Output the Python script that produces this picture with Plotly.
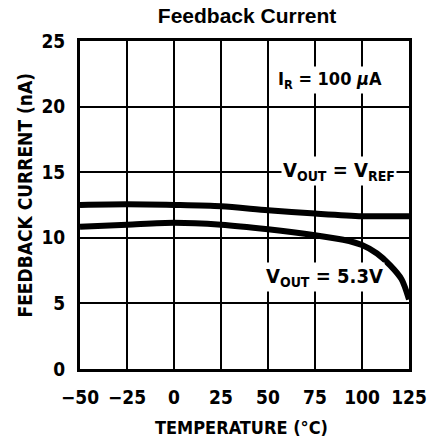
import plotly.graph_objects as go

temps_ref = [-50, -25, 0, 25, 50, 75, 100, 125]
current_vref = [12.5, 12.55, 12.5, 12.4, 12.1, 11.85, 11.65, 11.65]

temps_53 = [-50, -25, 0, 25, 50, 75, 90, 100, 108, 115, 121, 125]
current_53 = [10.85, 11.0, 11.15, 11.0, 10.65, 10.2, 9.85, 9.45, 8.8, 7.9, 6.85, 5.3]

x_ticks = [-50, -25, 0, 25, 50, 75, 100, 125]
x_ticktext = ["<b>\u221250</b>", "<b>\u221225</b>", "<b>0</b>", "<b>25</b>", "<b>50</b>",
              "<b>75</b>", "<b>100</b>", "<b>125</b>"]
y_ticks = [0, 5, 10, 15, 20, 25]
y_ticktext = ["<b>0</b>", "<b>5</b>", "<b>10</b>", "<b>15</b>", "<b>20</b>", "<b>25</b>"]

FONT = "DejaVu Sans Condensed, Liberation Sans Narrow, sans-serif"

fig = go.Figure()
fig.add_trace(go.Scatter(x=temps_ref, y=current_vref, mode="lines",
                         line=dict(color="black", width=6, shape="spline", smoothing=0.8),
                         showlegend=False, hoverinfo="skip"))
fig.add_trace(go.Scatter(x=temps_53, y=current_53, mode="lines",
                         line=dict(color="black", width=6, shape="spline", smoothing=0.8),
                         showlegend=False, hoverinfo="skip"))

fig.update_layout(
    width=432, height=443,
    margin=dict(l=80, r=23, t=41, b=74, autoexpand=False),
    paper_bgcolor="white", plot_bgcolor="white",
    title=dict(text="<b>Feedback Current</b>", x=0.572, xanchor="center", y=0.964, yanchor="middle",
               font=dict(family="Liberation Sans, Arial, sans-serif", size=21, color="black")),
    font=dict(family=FONT, color="black"),
)
fig.update_xaxes(range=[-50, 125], tickvals=x_ticks, ticktext=x_ticktext, automargin=False,
                 tickfont=dict(family=FONT, size=19, color="black"),
                 showgrid=True, gridcolor="black", gridwidth=2,
                 showline=True, linecolor="black", linewidth=3, mirror=True,
                 zeroline=False, ticks="", ticklabelstandoff=9)
fig.update_yaxes(range=[0, 25], tickvals=y_ticks, ticktext=y_ticktext, automargin=False,
                 tickfont=dict(family=FONT, size=19, color="black"),
                 showgrid=True, gridcolor="black", gridwidth=2,
                 showline=True, linecolor="black", linewidth=3, mirror=True,
                 zeroline=False, ticks="", ticklabelstandoff=8)

# axis titles
fig.add_annotation(x=0.492, y=-0.177, xref="paper", yref="paper",
                   text="<b>TEMPERATURE (°C)</b>", showarrow=False,
                   xanchor="center", yanchor="middle",
                   font=dict(family=FONT, size=18, color="black"))
fig.add_annotation(x=-0.166, y=0.530, xref="paper", yref="paper",
                   text="<b>FEEDBACK CURRENT (nA)</b>", showarrow=False, textangle=-90,
                   xanchor="center", yanchor="middle",
                   font=dict(family=FONT, size=19, color="black"))

fig.add_annotation(x=83, y=22.0, xref="x", yref="y",
                   text="<b>I<sub>R</sub> = 100 <i>\u03bc</i>A</b>",
                   showarrow=False, bgcolor="white", font=dict(family=FONT, size=18, color="black"),
                   borderpad=1)
fig.add_annotation(x=88, y=15.1, xref="x", yref="y",
                   text="<b>V<sub>OUT</sub> = V<sub>REF</sub></b>",
                   showarrow=False, bgcolor="white", font=dict(family=FONT, size=20, color="black"),
                   borderpad=1)
fig.add_annotation(x=80, y=7.0, xref="x", yref="y",
                   text="<b>V<sub>OUT</sub> = 5.3V</b>",
                   showarrow=False, bgcolor="white", font=dict(family=FONT, size=20, color="black"),
                   borderpad=1)

fig.write_html("out.html", config={"displayModeBar": False},
               post_script="document.body.style.margin='0px';document.body.style.padding='0px';")
